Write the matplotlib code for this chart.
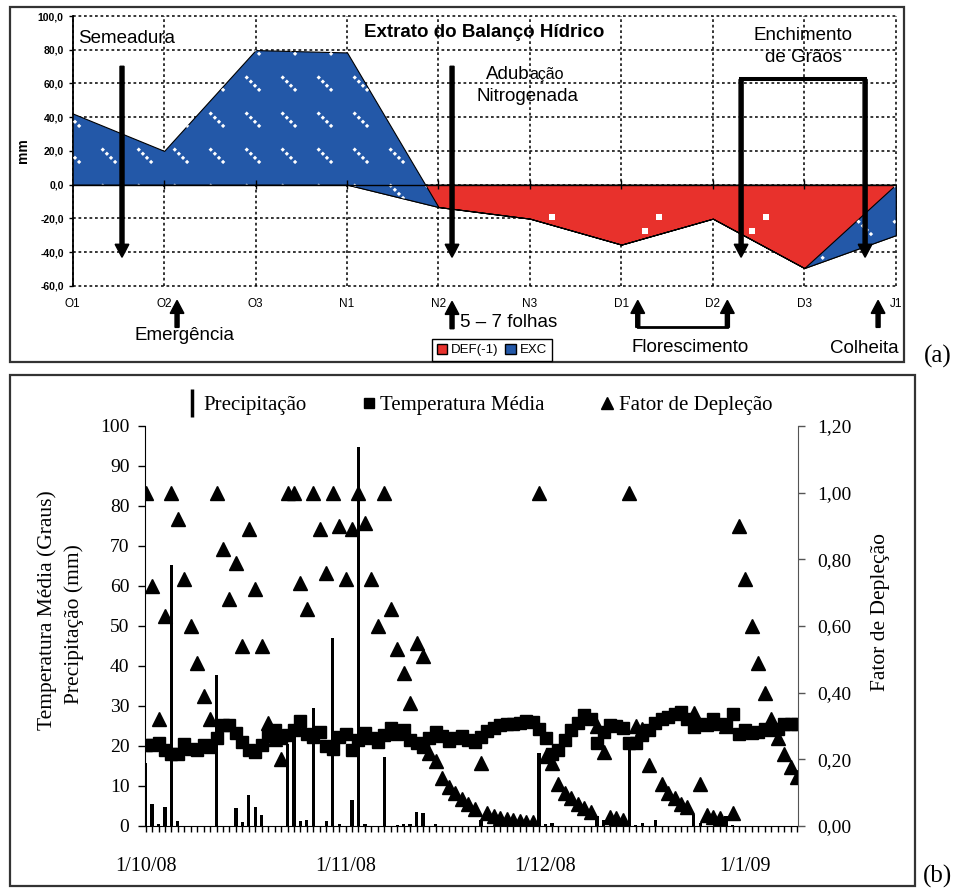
import numpy as np
import matplotlib.pyplot as plt
from matplotlib.lines import Line2D
from matplotlib.patches import Patch, Rectangle
from matplotlib.collections import LineCollection
from matplotlib.ticker import FuncFormatter

plt.rcParams['font.family'] = ['Liberation Sans', 'DejaVu Sans']

# (a) extrato do balanço hídrico decendial
decendios = ['O1', 'O2', 'O3', 'N1', 'N2', 'N3', 'D1', 'D2', 'D3', 'J1']
deficit = [0, 0, 0, 0, -13.3, -20.2, -35.6, -20.2, -49.5, -30.0]
excedente = [42.2, 20.0, 79.8, 78.4, 0, 0, 0, 0, 0, 30.0]

# (b) dados diários (1/10/08 a 11/1/09)
datas = ['1/10/08', '1/11/08', '1/12/08', '1/1/09']
pos_datas = [0, 31, 62, 93]
precipitacao = [15.8, 5.4, 0.4, 4.8, 65.2, 1.2, 0, 0, 0, 0,
                0, 37.7, 0, 0, 4.6, 0.9, 7.7, 4.8, 2.7, 0,
                0, 0, 20.4, 24.3, 1.3, 1.6, 29.6, 0, 1.2, 47.0,
                0.4, 0, 6.6, 94.8, 0.4, 0, 0, 17.3, 0, 0.3,
                0.4, 0.4, 3.6, 3.2, 0, 0.4, 0, 0, 0, 0,
                0, 0, 1.5, 0, 0, 0, 0, 0, 0, 0,
                0, 18.3, 0.4, 0.7, 0, 0, 0, 0, 0, 0,
                2.5, 1.6, 0, 0, 0, 21.0, 0.3, 0.8, 0, 1.6,
                0, 0, 0, 0, 0, 2.7, 0.8, 0, 0, 0,
                2.4, 0.3, 0, 0, 0, 0, 0, 0, 0, 0, 0, 0]
temperatura = [20.2, 20.3, 20.7, 18.9, 17.9, 17.9, 20.4, 19.2, 18.9, 20.3,
               19.8, 22.0, 25.3, 25.2, 23.3, 21.0, 19.0, 18.4, 20.2, 22.4,
               24.0, 22.1, 22.7, 24.1, 26.3, 23.0, 22.2, 23.4, 20.0, 19.3,
               22.2, 22.9, 19.0, 21.5, 23.2, 22.1, 21.0, 22.8, 24.4, 23.1,
               23.9, 21.4, 20.8, 19.8, 22.1, 23.5, 22.6, 21.3, 21.9, 22.4,
               21.4, 21.0, 22.3, 23.8, 24.6, 25.3, 25.6, 25.4, 25.8, 26.2,
               26.0, 24.3, 22.0, 18.0, 19.0, 21.5, 23.9, 25.7, 27.7, 26.7,
               20.7, 23.5, 25.3, 24.9, 24.6, 20.8, 20.8, 22.8, 24.0, 25.8,
               26.7, 27.2, 28.0, 28.5, 26.8, 24.8, 25.4, 25.2, 26.8, 25.6,
               25.2, 28.1, 23.1, 24.1, 23.3, 23.5, 24.3, 24.1, 24.3, 25.4,
               25.6, 25.6]
fator = [1.00, 0.72, 0.32, 0.63, 1.00, 0.92, 0.74, 0.60, 0.49, 0.39,
         0.32, 1.00, 0.83, 0.68, 0.79, 0.54, 0.89, 0.71, 0.54, 0.31,
         0.26, 0.20, 1.00, 1.00, 0.73, 0.65, 1.00, 0.89, 0.76, 1.00,
         0.90, 0.74, 0.89, 1.00, 0.91, 0.74, 0.60, 1.00, 0.65, 0.53,
         0.46, 0.37, 0.55, 0.51, 0.22, 0.195, 0.145, 0.117, 0.098, 0.08,
         0.065, 0.05, 0.19, 0.038, 0.031, 0.025, 0.021, 0.019, 0.015, 0.012,
         0.011, 1.00, 0.21, 0.19, 0.127, 0.10, 0.083, 0.066, 0.054, 0.043,
         0.30, 0.222, 0.026, 0.024, 0.017, 1.00, 0.30, 0.29, 0.183, np.nan,
         0.126, 0.10, 0.083, 0.066, 0.058, 0.338, 0.126, 0.034, 0.028, 0.025,
         0.30, 0.038, 0.90, 0.74, 0.60, 0.49, 0.40, 0.32, 0.265, 0.216,
         0.176, 0.146]

VERMELHO = '#E8312C'
AZUL = '#2358A8'
SERIF = 'Liberation Serif'

fig = plt.figure(figsize=(9.58, 8.91), dpi=100)


def seta(ax, x, y0, y1):
    # seta vertical grossa (largura em unidades de categoria, cabeça em mm)
    ax.arrow(x, y0, 0, y1 - y0, width=0.044, head_width=0.15, head_length=7.7,
             length_includes_head=True, color='black', clip_on=False, zorder=6)


# ---------------- (a) ----------------
ax = fig.add_axes([0.0759, 0.6793, 0.8591, 0.3027])
x = np.arange(len(decendios))
d = np.array(deficit)
e = np.array(excedente)

poly_def = ax.fill_between(x, 0, d, facecolor=VERMELHO, edgecolor='black', lw=0.8, zorder=2)
poly_exc = ax.fill_between(x, d, d + e, facecolor=AZUL, edgecolor='black', lw=0.8, zorder=3)

# textura do EXC (traços diagonais brancos)
gx, gy = np.meshgrid(-0.0765 + 0.3936 * np.arange(-1, 25), 21.39 * np.arange(-4, 6))
segs = [[(a, b), (a + 0.175, b - 9.5)] for a, b in zip(gx.ravel(), gy.ravel())]
lc = LineCollection(segs, colors='white', linewidths=2.2, linestyles=[(0, (1.0, 0.9))], zorder=3.5)
ax.add_collection(lc)
lc.set_clip_path(poly_exc.get_paths()[0], ax.transData)

# textura do DEF (quadradinhos brancos)
kk = np.arange(0, 6)
qx = np.concatenate([5.24 + 1.17 * kk, 5.09 + 1.17 * kk])
qy = np.concatenate([np.full(6, -19.4), np.full(6, -27.3)])
pts = ax.scatter(qx, qy, marker='s', s=16, c='white', lw=0, zorder=2.5)
pts.set_clip_path(poly_def.get_paths()[0], ax.transData)

ax.set_xlim(0, 9)
ax.set_ylim(-60, 100)
ax.set_yticks(range(-60, 101, 20))
ax.set_xticks(x, decendios)
ax.yaxis.set_major_formatter(FuncFormatter(lambda v, p: f'{v:.1f}'.replace('.', ',')))
ax.grid(True, color='black', ls=(0, (1.8, 1.8)), lw=1.1)
for gl in ax.get_xgridlines() + ax.get_ygridlines():
    gl.set_clip_on(False)
for s in ['top', 'right', 'bottom']:
    ax.spines[s].set_visible(False)
ax.spines['left'].set_linewidth(1.3)
ax.axhline(0, color='black', lw=1.0, zorder=4)
ax.vlines(x[1:], -2.5, 2.5, colors='black', lw=1.0, zorder=4)
ax.tick_params(axis='x', length=0, pad=9, labelsize=8.5)
ax.tick_params(axis='y', length=3, width=1, labelsize=7.5)
for t in ax.get_yticklabels():
    t.set_fontweight('bold')
ax.set_ylabel('mm', fontsize=10, fontweight='bold')
ax.yaxis.set_label_coords(-0.052, 0.5)

ax.text(4.498, 90.4, 'Extrato do Balanço Hídrico', fontsize=13.5, fontweight='bold',
        ha='center', va='center', zorder=7)
ax.text(0.058, 86.8, 'Semeadura', fontsize=13.5, ha='left', va='center', zorder=7)
t_adub = ax.text(4.52, 62.9, 'Adub', fontsize=13.5, ha='left', va='baseline', zorder=7)
fig.canvas.draw()
x_acao = ax.transData.inverted().transform((t_adub.get_window_extent().x1, 0))[0]
ax.text(x_acao, 62.9, 'ação', fontsize=11.5, ha='left', va='baseline', zorder=7)
ax.text(4.974, 52.4, 'Nitrogenada', fontsize=13.5, ha='center', va='center', zorder=7)
ax.text(7.981, 88.6, 'Enchimento', fontsize=13.5, ha='center', va='center', zorder=7)
ax.text(7.987, 75.5, 'de Grãos', fontsize=13.5, ha='center', va='center', zorder=7)
ax.text(1.219, -89.5, 'Emergência', fontsize=13.5, ha='center', va='center', clip_on=False)
ax.text(4.236, -81.7, '5 – 7 folhas', fontsize=13.5, ha='left', va='center', clip_on=False)
ax.text(6.756, -96.5, 'Florescimento', fontsize=13.5, ha='center', va='center', clip_on=False)
ax.text(8.659, -97.1, 'Colheita', fontsize=13.5, ha='center', va='center', clip_on=False)

# setas
seta(ax, 0.539, 70.2, -43.1)
seta(ax, 4.148, 70.2, -43.1)
seta(ax, 7.309, 62.4, -43.1)
seta(ax, 8.665, 62.4, -43.1)
ax.plot([7.309, 8.665], [62.4, 62.4], color='black', lw=2.9, solid_capstyle='projecting', zorder=6)
seta(ax, 1.141, -84.7, -68.7)
seta(ax, 4.148, -85.5, -69.3)
seta(ax, 6.179, -84.7, -68.7)
seta(ax, 7.159, -84.7, -68.7)
ax.plot([6.179, 7.159], [-84.7, -84.7], color='black', lw=2.0, clip_on=False, zorder=6)
seta(ax, 8.807, -84.7, -68.7)

fig.legend(handles=[Patch(facecolor=VERMELHO, edgecolor='black'), Patch(facecolor=AZUL, edgecolor='black')],
           labels=['DEF(-1)', 'EXC'], loc='center', bbox_to_anchor=(492 / 958, 1 - 350 / 891),
           ncol=2, fontsize=9.5, frameon=True, fancybox=False, edgecolor='black', framealpha=1,
           borderpad=0.35, handlelength=0.8, handleheight=0.8, handletextpad=0.3, columnspacing=0.5)

fig.add_artist(Rectangle((9.5 / 958, 1 - 362 / 891), (904 - 9.5) / 958, (362 - 7) / 891,
                         transform=fig.transFigure, fill=False, ec='#333333', lw=1.6))
fig.text(938 / 958, 1 - 356 / 891, '(a)', fontsize=18, family=SERIF, ha='center', va='center')

# ---------------- (b) ----------------
ax2 = fig.add_axes([0.1510, 0.0730, 0.6820, 0.4489])
dias = np.arange(len(temperatura))
ax2.bar(dias, precipitacao, width=0.5, color='black', zorder=2)
ax2.plot(dias, temperatura, ls='none', marker='s', ms=8, color='black', zorder=3)
axr = ax2.twinx()
axr.plot(dias, fator, ls='none', marker='^', ms=9.5, color='black')

ax2.set_xlim(-0.15, 101.15)
ax2.set_ylim(0, 100)
axr.set_ylim(0, 1.2)
ax2.set_xticks(pos_datas, datas)
ax2.set_xticks(dias, minor=True)
ax2.set_yticks(range(0, 101, 10))
axr.set_yticks(np.arange(0, 1.21, 0.2))
axr.yaxis.set_major_formatter(FuncFormatter(lambda v, p: f'{v:.2f}'.replace('.', ',')))

ax2.tick_params(axis='x', which='both', direction='out', length=4, width=1, pad=18,
                labelsize=14.5, labelfontfamily=SERIF)
ax2.tick_params(axis='y', direction='out', length=5, width=1, pad=6,
                labelsize=14, labelfontfamily=SERIF)
axr.tick_params(axis='y', direction='out', length=5, width=1, pad=9, color='#555555',
                labelsize=14, labelfontfamily=SERIF)
ax2.spines['top'].set_visible(False)
ax2.spines['right'].set_visible(False)
for s in ['top', 'left', 'bottom']:
    axr.spines[s].set_visible(False)
axr.spines['right'].set_color('#555555')

ax2.text(-0.1495, 0.54, 'Temperatura Média (Graus)', transform=ax2.transAxes, rotation=90,
         ha='center', va='center', fontsize=15.5, family=SERIF)
ax2.text(-0.1085, 0.505, 'Precipitação (mm)', transform=ax2.transAxes, rotation=90,
         ha='center', va='center', fontsize=15.5, family=SERIF)
ax2.text(1.1255, 0.535, 'Fator de Depleção', transform=ax2.transAxes, rotation=90,
         ha='center', va='center', fontsize=15.5, family=SERIF)

fig.legend(handles=[Line2D([], [], ls='none', marker='|', ms=20, mew=2.5, color='black'),
                    Line2D([], [], ls='none', marker='s', ms=7, color='black'),
                    Line2D([], [], ls='none', marker='^', ms=9, color='black')],
           labels=['Precipitação', 'Temperatura Média', 'Fator de Depleção'],
           loc='center', bbox_to_anchor=(479 / 958, 1 - 405 / 891), ncol=3, frameon=False,
           prop=dict(family=SERIF, size=15), handlelength=0.6, handletextpad=0.25, columnspacing=2.68)

fig.add_artist(Rectangle((10 / 958, 1 - 886 / 891), (915 - 10) / 958, (886 - 375) / 891,
                         transform=fig.transFigure, fill=False, ec='#333333', lw=1.6))
fig.text(937 / 958, 1 - 876 / 891, '(b)', fontsize=18, family=SERIF, ha='center', va='center')

fig.savefig('out.png', dpi=100)
